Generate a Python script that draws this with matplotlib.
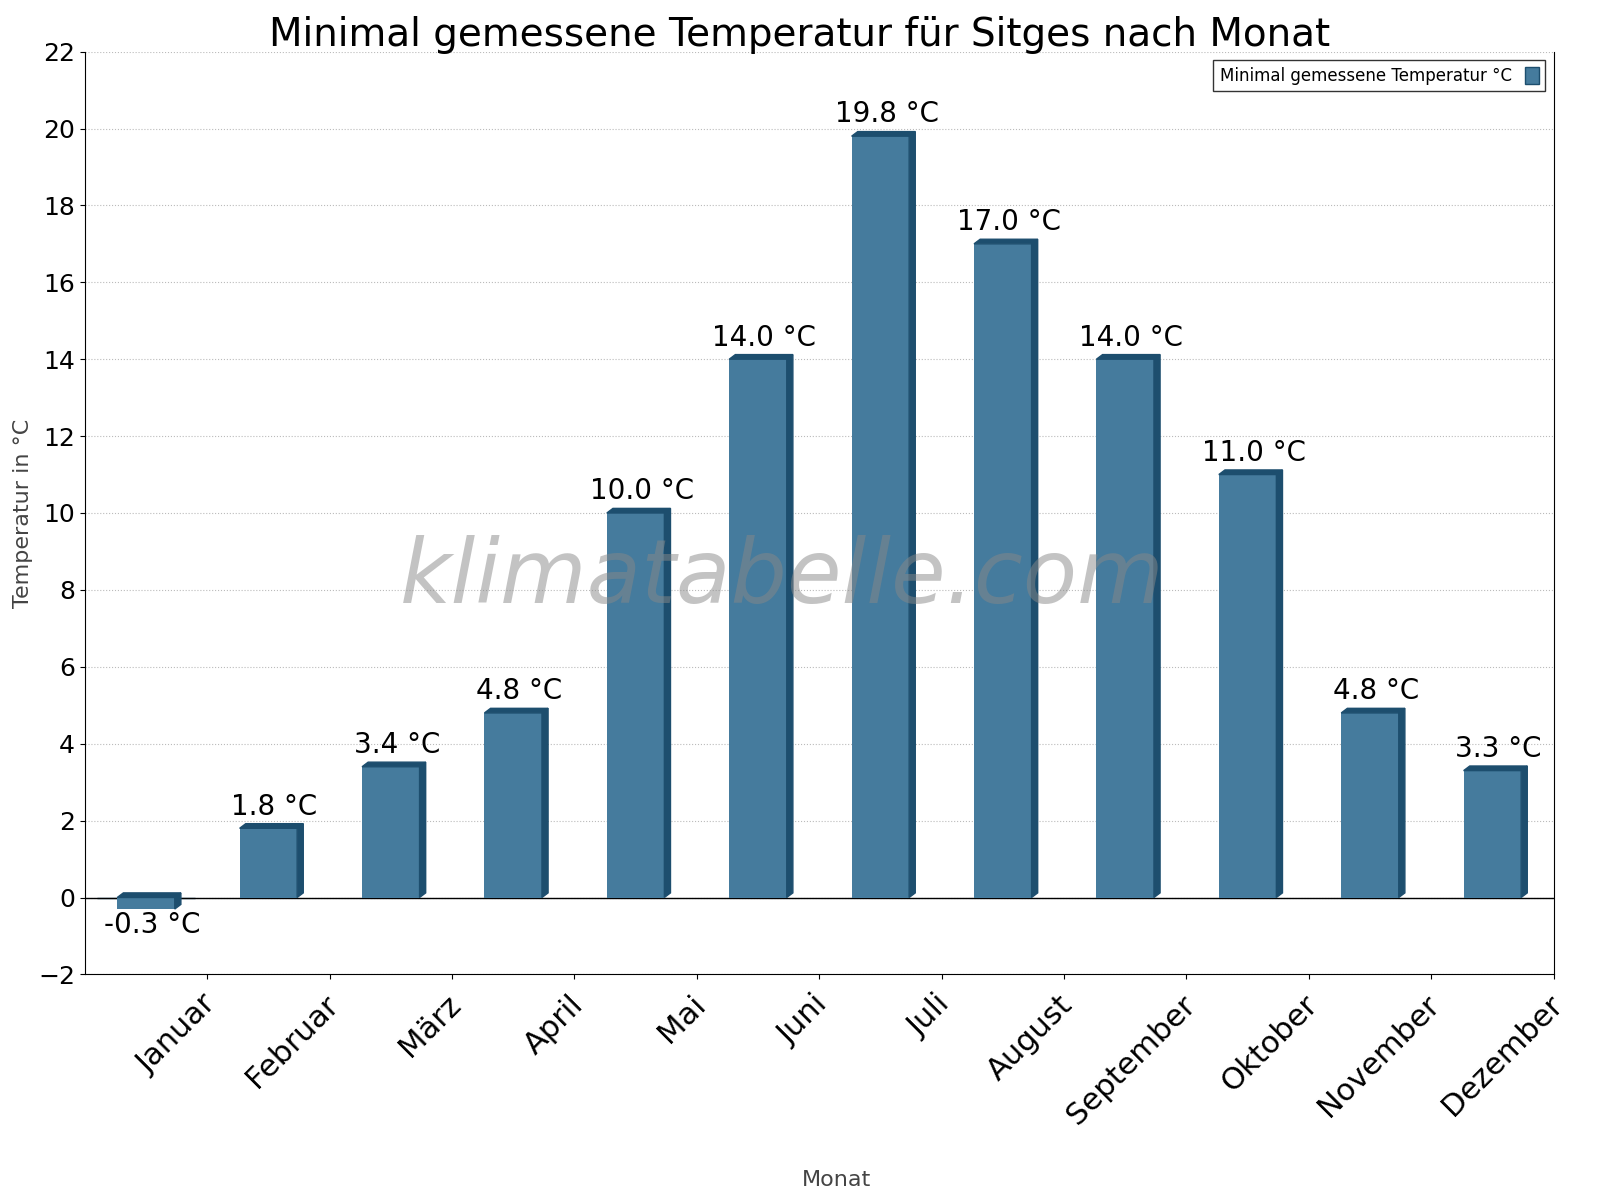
import matplotlib
matplotlib.use("Agg")
import matplotlib.pyplot as plt
import numpy as np
from matplotlib.patches import Polygon

months = ["Januar", "Februar", "März", "April", "Mai", "Juni", "Juli",
          "August", "September", "Oktober", "November", "Dezember"]
temps = [-0.3, 1.8, 3.4, 4.8, 10.0, 14.0, 19.8, 17.0, 14.0, 11.0, 4.8, 3.3]

face = "#457b9d"
dark = "#1d4e6e"

fig = plt.figure(figsize=(16, 12), dpi=100)
ax = fig.add_axes([0.053, 0.188, 0.918, 0.769])

x = np.arange(len(months))
w = 0.47
dx, dy = 0.05, 0.12
ax.bar(x, temps, width=w, color=face, zorder=3)
for xi, t in zip(x, temps):
    l, r = xi - w / 2, xi + w / 2
    top = max(t, 0)
    bot = min(t, 0)
    # right side
    ax.add_patch(Polygon([[r, bot], [r + dx, bot + dy], [r + dx, top + dy], [r, top]],
                         closed=True, color=dark, zorder=3))
    # top face
    ax.add_patch(Polygon([[l, top], [l + dx, top + dy], [r + dx, top + dy], [r, top]],
                         closed=True, color=dark, zorder=3))
    if t >= 0:
        ax.text(xi + 0.05, t + 0.2, f"{t:.1f} °C", ha="center", va="bottom", fontsize=20, zorder=4)
    else:
        ax.text(xi + 0.05, t - 0.05, f"{t:.1f} °C", ha="center", va="top", fontsize=20, zorder=4)

ax.axhline(0, color="black", lw=1, zorder=2)
ax.set_xlim(-0.5, len(months) - 0.5)
ax.set_ylim(-2, 22)
ax.set_yticks(np.arange(-2, 23, 2))
ax.tick_params(axis="y", labelsize=18)
ax.set_xticks(x + 0.5)
ax.set_xticklabels([])
for xi, m in zip(x, months):
    ax.text(xi + 0.45, -2.4, m, rotation=45, ha="right", va="top", fontsize=22,
            rotation_mode="anchor", transform=ax.transData)
ax.grid(axis="y", linestyle=":", color="#bbbbbb", zorder=0)
for s in ["top"]:
    ax.spines[s].set_visible(False)

ax.set_ylabel("Temperatur in °C", fontsize=16, color="#444444")
fig.text(0.523, 0.012, "Monat", ha="center", fontsize=16, color="#444444")
fig.text(0.5, 0.962, "Minimal gemessene Temperatur für Sitges nach Monat",
         ha="center", fontsize=28)
ax.text(0.475, 0.43, "klimatabelle.com", transform=ax.transAxes, ha="center", va="center",
        fontsize=64, style="italic", color="#888888", alpha=0.5, zorder=5)

ax.bar([0], [0], color=face, edgecolor=dark, label="Minimal gemessene Temperatur °C")
leg = ax.legend(loc="upper right", fontsize=12, fancybox=False, edgecolor="black",
                markerfirst=False, handlelength=0.8, handleheight=1.2)
leg.get_frame().set_linewidth(1)

fig.savefig("out.png", dpi=100)
